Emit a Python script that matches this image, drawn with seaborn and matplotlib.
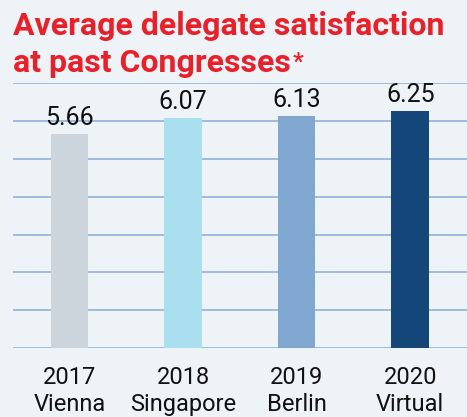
import numpy as np
import pandas as pd
import seaborn as sns
import matplotlib.pyplot as plt

# chart data
years = ['2017', '2018', '2019', '2020']
cities = ['Vienna', 'Singapore', 'Berlin', 'Virtual']
scores = [5.66, 6.07, 6.13, 6.25]
bar_colors = ['#cdd5dc', '#a9dfee', '#80a7d0', '#15467a']

labels = [y + '\n' + c for y, c in zip(years, cities)]
df = pd.DataFrame({'label': labels, 'score': scores})

sns.set_theme(style='white')
plt.rcParams['font.family'] = ['Roboto', 'DejaVu Sans']

bg = '#eef3f8'
fig = plt.figure(figsize=(4.67, 4.17), dpi=100, facecolor=bg)
ax = fig.add_axes([0.027, 0.165, 0.973, 0.636])
ax.set_facecolor(bg)

sns.barplot(data=df, x='label', y='score', hue='label', palette=bar_colors,
            width=0.33, saturation=1, linewidth=0, legend=False, ax=ax, zorder=3)

for c in ax.containers:
    ax.bar_label(c, fmt='%.2f', fontsize=18, padding=3, color='#111111')

ax.set_ylim(0, 7)
ax.set_xlim(-0.5, 3.5)
ax.set_yticks(range(8))
ax.yaxis.grid(True, color='#8aaad4', linewidth=1.1, zorder=0)
ax.set_axisbelow(True)
ax.tick_params(axis='y', left=False, labelleft=False)
ax.tick_params(axis='x', length=0, pad=13, labelsize=17, labelcolor='#111111')
ax.set_xlabel('')
ax.set_ylabel('')
for s in ax.spines.values():
    s.set_visible(False)

title_red = '#e8202a'
fig.text(0.028, 0.915, 'Average delegate satisfaction', color=title_red,
         fontsize=23, fontweight='bold', va='baseline')
t2 = fig.text(0.028, 0.827, 'at past Congresses', color=title_red,
              fontsize=23, fontweight='bold', va='baseline')

# small asterisk after the second title line
fig.canvas.draw()
bb = t2.get_window_extent().transformed(fig.transFigure.inverted())
fig.text(bb.x1 + 0.003, 0.835, '*', color=title_red, fontsize=17,
         fontweight='bold', va='baseline')

fig.savefig('out.png', dpi=100, facecolor=bg)
